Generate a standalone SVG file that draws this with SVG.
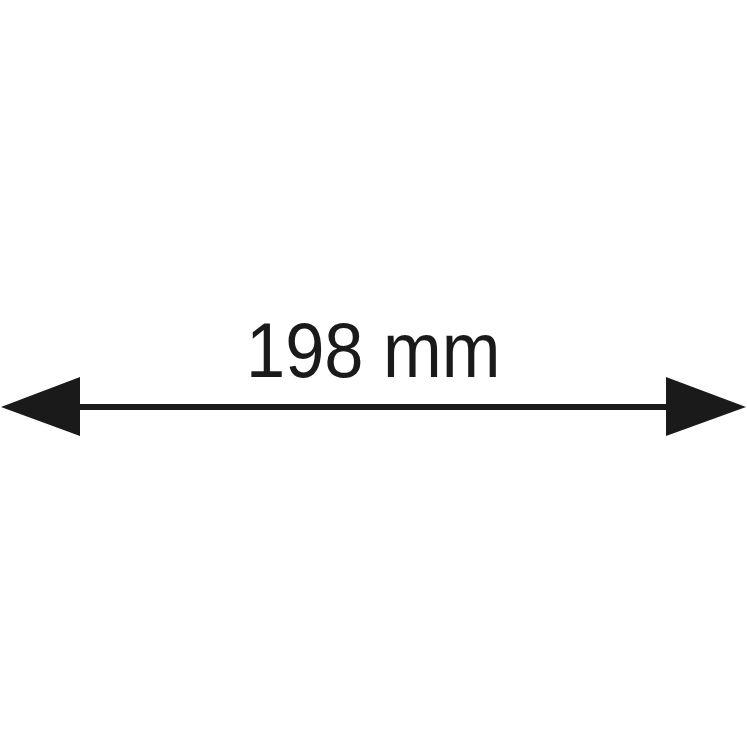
<svg xmlns="http://www.w3.org/2000/svg" width="747" height="747" viewBox="0 0 747 747">
<style>
.lbl{font-family:"Liberation Sans",Arial,sans-serif;font-size:77px;fill:#1a1a1a}
.dim{stroke:#1a1a1a;stroke-width:6;fill:none}
.head{fill:#1a1a1a}
</style>
<rect width="747" height="747" fill="#ffffff"/>
<g id="connectors">
<line class="dim" x1="78" y1="407" x2="668" y2="407"/>
<polygon class="head" points="1,407 80,377 80,436"/>
<polygon class="head" points="746,407 666,377 666,436"/>
</g>
<g id="label">
<text class="lbl" transform="translate(246,377) scale(0.915,1)" x="0" y="0">198 mm</text>
</g>
</svg>
